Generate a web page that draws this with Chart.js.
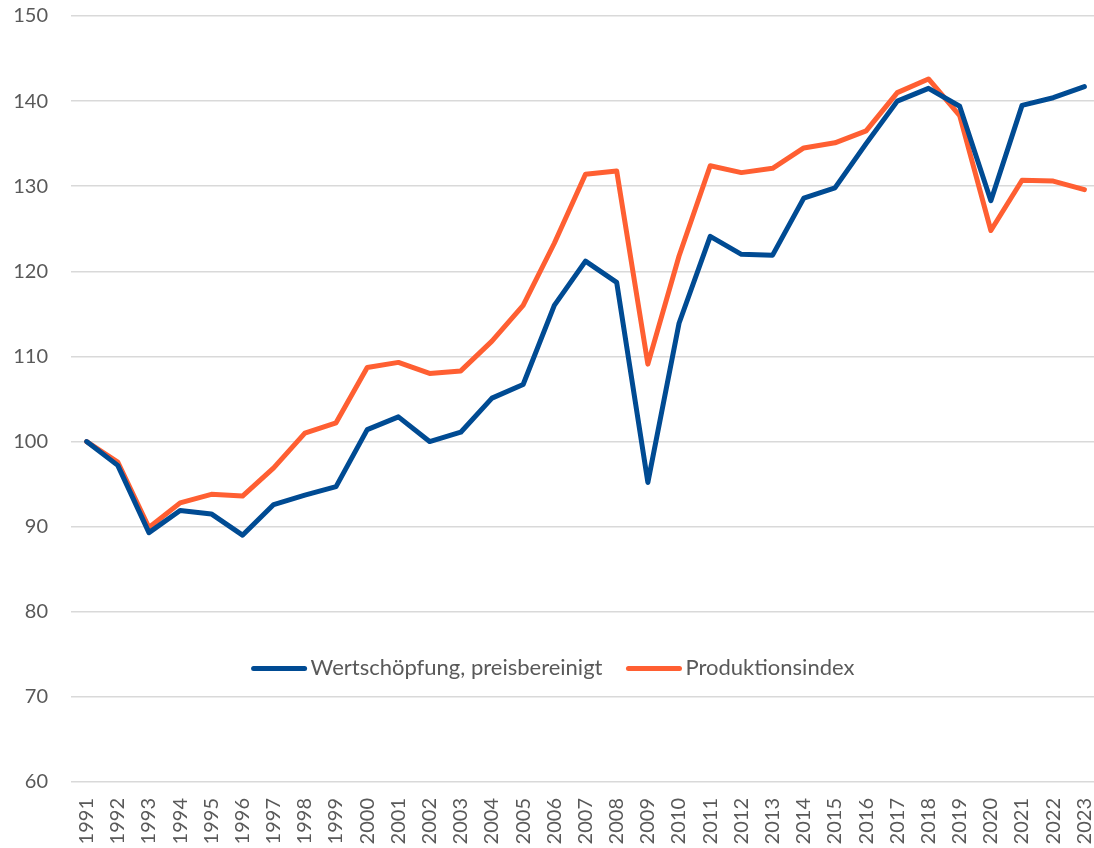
<!DOCTYPE html>
<html>
<head>
<meta charset="utf-8">
<script src="https://cdn.jsdelivr.net/npm/chart.js@4/dist/chart.umd.min.js"></script>
<style>
html,body{margin:0;padding:0;background:#fff;overflow:hidden;}
#wrap{width:1100px;height:848px;position:relative;}
</style>
</head>
<body>
<div id="wrap"><canvas id="c" width="1100" height="848"></canvas></div>
<script>
const years = ['1991','1992','1993','1994','1995','1996','1997','1998','1999','2000','2001','2002','2003','2004','2005','2006','2007','2008','2009','2010','2011','2012','2013','2014','2015','2016','2017','2018','2019','2020','2021','2022','2023'];
const wertschoepfung = [100,97.2,89.3,91.9,91.5,89.0,92.6,93.7,94.7,101.4,102.9,100.0,101.1,105.1,106.7,116.0,121.2,118.7,95.2,113.9,124.1,122.0,121.9,128.6,129.8,135.0,140.0,141.5,139.4,128.3,139.5,140.4,141.7];
const produktionsindex = [100,97.6,89.9,92.8,93.8,93.6,96.9,101.0,102.2,108.7,109.3,108.0,108.3,111.8,116.0,123.3,131.4,131.8,109.1,121.8,132.4,131.6,132.1,134.5,135.1,136.5,141.0,142.6,138.3,124.8,130.7,130.6,129.6];
const seriesLabels = ['Wertschöpfung, preisbereinigt','Produktionsindex'];
const seriesColors = ['#004B93','#FF5F32'];
const yTicks = [60,70,80,90,100,110,120,130,140,150];

const FONT = 'Lato, "Source Sans Pro", "Noto Sans", sans-serif';
const TEXT = '#595959';

const legendPlugin = {
  id: 'inlineLegend',
  afterDatasetsDraw(chart) {
    const ctx = chart.ctx;
    const ys = chart.scales.y;
    const yc = ys.getPixelForValue(73.35);
    ctx.save();
    ctx.font = '22px ' + FONT;
    ctx.textBaseline = 'middle';
    const lineW = 55, gapAfterLine = 4, gapBetween = 24;
    const items = chart.data.datasets.map(d => ({label: d.label, color: d.borderColor, w: ctx.measureText(d.label).width}));
    let total = 0;
    items.forEach((it, i) => { total += lineW + gapAfterLine + it.w + (i < items.length - 1 ? gapBetween : 0); });
    let x = 243 + (620 - total) / 2;
    items.forEach(it => {
      ctx.strokeStyle = it.color;
      ctx.lineWidth = 5;
      ctx.lineCap = 'round';
      ctx.beginPath();
      ctx.moveTo(x + 2, yc);
      ctx.lineTo(x + lineW - 2, yc);
      ctx.stroke();
      ctx.fillStyle = TEXT;
      ctx.fillText(it.label, x + lineW + gapAfterLine, yc);
      x += lineW + gapAfterLine + it.w + gapBetween;
    });
    ctx.restore();
  }
};

new Chart(document.getElementById('c'), {
  type: 'line',
  data: {
    labels: years,
    datasets: [
      {label: seriesLabels[0], data: wertschoepfung, borderColor: seriesColors[0], backgroundColor: seriesColors[0], borderWidth: 5, pointRadius: 0, tension: 0, borderJoinStyle: 'round', borderCapStyle: 'round'},
      {label: seriesLabels[1], data: produktionsindex, borderColor: seriesColors[1], backgroundColor: seriesColors[1], borderWidth: 5, pointRadius: 0, tension: 0, borderJoinStyle: 'round', borderCapStyle: 'round'}
    ]
  },
  options: {
    responsive: false,
    animation: false,
    devicePixelRatio: 1,
    layout: {padding: {top: 16, right: 0, bottom: 0, left: 0}},
    plugins: {legend: {display: false}, tooltip: {enabled: false}},
    scales: {
      x: {
        offset: true,
        grid: {display: false, drawTicks: false},
        border: {display: false},
        ticks: {color: TEXT, font: {family: FONT, size: 20}, minRotation: 90, maxRotation: 90, autoSkip: false, padding: 16},
        afterFit(s) { s.height = 66; s.paddingLeft = 0; s.paddingRight = 0; }
      },
      y: {
        min: 60, max: 150,
        afterBuildTicks(s) { s.ticks = yTicks.map(v => ({value: v})); },
        grid: {color: '#d9d9d9', lineWidth: 1.5, drawTicks: false},
        border: {display: false},
        ticks: {color: TEXT, font: {family: FONT, size: 20}, padding: 23},
        afterFit(s) { s.width = 71; s.paddingTop = 0; s.paddingBottom = 0; }
      }
    }
  },
  plugins: [legendPlugin]
});
</script>
</body>
</html>
